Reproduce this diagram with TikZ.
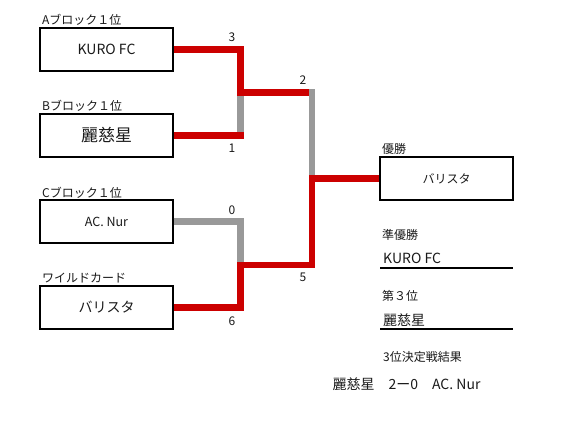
\documentclass[tikz,border=0pt]{standalone}
\usepackage{fontspec}
\setmainfont{Noto Sans CJK JP}
\definecolor{winred}{HTML}{CC0000}
\definecolor{losegray}{HTML}{999999}
\definecolor{txt}{HTML}{1A1A1A}
\tikzset{
  teambox/.style={draw=black, line width=1.2pt, minimum width=133pt, minimum height=43pt, inner sep=0pt, text=txt},
  redline/.style={draw=winred, line width=6.5pt, line join=miter, line cap=butt},
  grayline/.style={draw=losegray, line width=6.5pt, line join=miter, line cap=butt},
  lbl/.style={anchor=west, inner sep=0pt, font=\fontsize{12}{14}\selectfont, text=txt},
  score/.style={inner sep=0pt, font=\fontsize{12}{14}\selectfont, text=txt},
  rname/.style={anchor=west, inner sep=0pt, font=\fontsize{14}{16}\selectfont, text=txt},
}
\begin{document}
\begin{tikzpicture}[x=1pt,y=-1pt]
\useasboundingbox (0,0) rectangle (567,424);
\fill[white] (0,0) rectangle (567,424);

% team boxes
\node[teambox, font=\fontsize{14}{16}\selectfont] (A) at (106.5,49.5) {KURO FC};
\node[teambox, font=\fontsize{17}{19}\selectfont] (B) at (106.5,135.5) {麗慈星};
\node[teambox, font=\fontsize{12.5}{14}\selectfont] (C) at (106.5,221.5) {AC. Nur};
\node[teambox, font=\fontsize{14}{16}\selectfont] (W) at (106.5,307.5) {バリスタ};
\node[teambox, font=\fontsize{12}{14}\selectfont] (champ) at (446.5,178.5) {バリスタ};

% box labels
\node[lbl] (la) at (42,20) {Aブロック１位};
\node[lbl] (lb) at (42,106) {Bブロック１位};
\node[lbl] (lc) at (42,193) {Cブロック１位};
\node[lbl] (lw) at (42,278) {ワイルドカード};

% junctions
\coordinate (j1) at (240.5,92.5);
\coordinate (j2) at (240.5,265);
\coordinate (f) at (312,178.5);
\coordinate (ftop) at (312,89.25);
\coordinate (f1) at (308.75,92.5);

% losing paths
\draw[grayline] (j1) -- (j1 |- B.east);
\draw[grayline] (C.east) -| (j2);
\draw[grayline] (ftop) -- (f);

% winning paths
\draw[redline] (A.east) -| (j1) -- (f1);
\draw[redline] (B.east) -- ([xshift=3.25pt]j1 |- B.east);
\draw[redline] (W.east) -| (j2) -| (f) -- (champ.west);

% scores
\node[score] (s3) at (232,37) {3};
\node[score] (s1) at (232,148) {1};
\node[score] (s2) at (303,80) {2};
\node[score] (s0) at (232,210) {0};
\node[score] (s6) at (232,321) {6};
\node[score] (s5) at (303,277) {5};

% right side results
\node[lbl] (lchamp) at (382,149) {優勝};
\node[lbl] (lrunner) at (382,235) {準優勝};
\node[rname] (runner) at (383,258) {KURO FC};
\draw[line width=1.2pt] (380,268) -- (513,268);
\node[lbl] (lthird) at (382,296) {第３位};
\node[rname] (third) at (383,320) {麗慈星};
\draw[line width=1.2pt] (380,329) -- (513,329);
\node[lbl] (lres) at (383,357) {3位決定戦結果};
\node[inner sep=0pt, font=\fontsize{14}{16}\selectfont, text=txt] (res) at (406.5,384) {麗慈星　2ー0　AC. Nur};
\end{tikzpicture}
\end{document}
